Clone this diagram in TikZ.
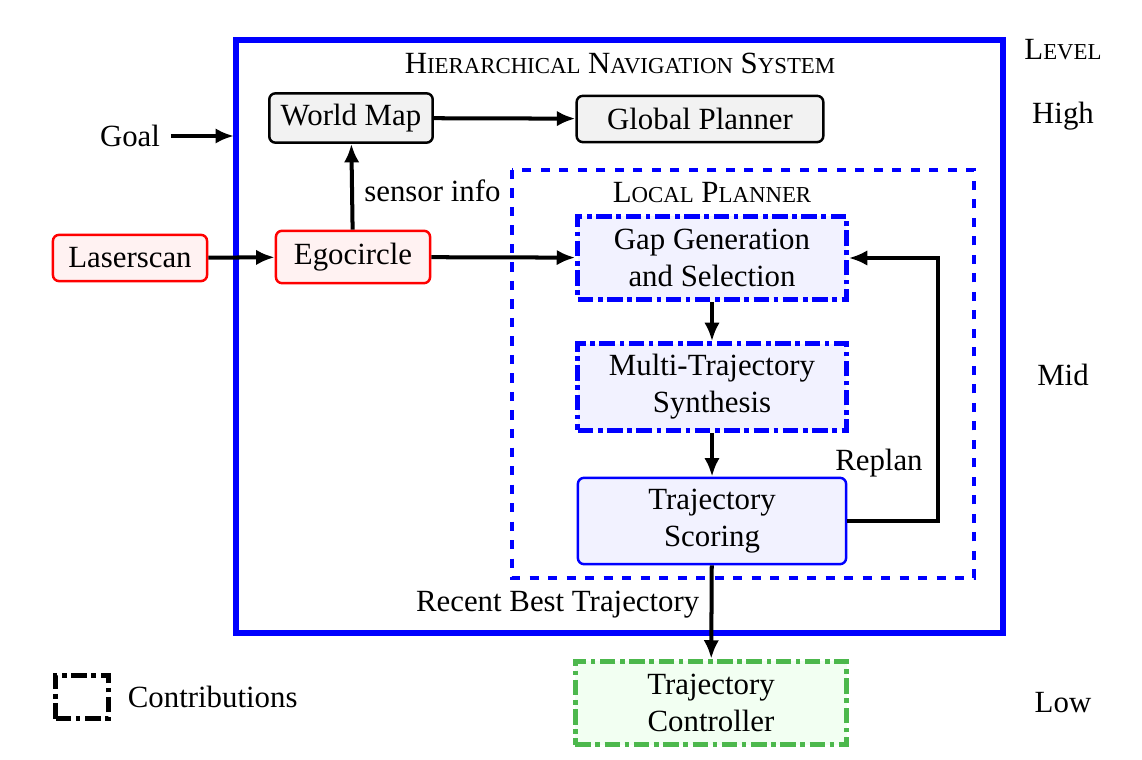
\documentclass[tikz,border=0pt]{standalone}
\usepackage{fontspec}
\setmainfont{Liberation Serif}
\usetikzlibrary{arrows.meta,positioning}
\newcommand{\fakesc}[2]{#1{\fontsize{7.4}{9}\selectfont #2}}

\tikzset{
  box/.style={draw, rounded corners=2pt, thick, align=center, inner sep=2pt},
  graybox/.style={box, black, fill=gray!10},
  redbox/.style={box, red, fill=red!5, text=black},
  contrib/.style={draw=blue, dash pattern=on 5pt off 1.5pt on 1.5pt off 1.5pt, line width=1.7pt, fill=blue!5, align=center},
  plain/.style={box, blue, fill=blue!5, text=black},
  ctrl/.style={draw=green!60!black!70, dash pattern=on 5pt off 1.5pt on 1.5pt off 1.5pt, line width=1.7pt, fill=green!5, align=center},
  arr/.style={-{Latex[length=6pt,width=5pt]}, line width=1.3pt},
}

\begin{document}
\begin{tikzpicture}[x=0.0114cm,y=-0.0114cm]
\fontsize{10}{12}\selectfont
\useasboundingbox (0,0) rectangle (1142,760);

% frames
\draw[blue, line width=1.7pt] (236,40) rectangle (1003,633);
\node (title) at (620,63) {\fakesc{H}{IERARCHICAL} \fakesc{N}{AVIGATION} \fakesc{S}{YSTEM}};
\draw[blue, dashed, line width=1.1pt] (512,170) rectangle (974,578);
\node (local) at (712,193) {\fakesc{L}{OCAL} \fakesc{P}{LANNER}};

% levels
\node (level) at (1063,50) {\fakesc{L}{EVEL}};
\node (high) at (1063,116) {High};
\node (mid) at (1063,375) {Mid};
\node (low) at (1063,703) {Low};

% nodes
\node[graybox, minimum width=53pt, minimum height=16pt] (map) at (351,118) {World Map};
\node[graybox, minimum width=80pt, minimum height=15pt] (global) at (700,119) {Global Planner};
\node (goal) at (130,136) {Goal};
\coordinate (goalend) at (234,136);
\node[redbox, minimum width=50pt, minimum height=15pt] (laser) at (130,258) {Laserscan};
\node[redbox, minimum width=50pt, minimum height=17pt] (ego) at (353,257) {Egocircle};
\node[contrib, minimum width=87pt, minimum height=27pt] (gap) at (712,258) {Gap Generation\\and Selection};
\node[contrib, minimum width=87pt, minimum height=28pt] (multi) at (712,387) {Multi-Trajectory\\Synthesis};
\node[plain, minimum width=87pt, minimum height=28pt] (score) at (712,521) {Trajectory\\Scoring};
\node[ctrl, minimum width=88pt, minimum height=27pt] (ctrl) at (711,703) {Trajectory\\Controller};

% legend
\node[draw, dash pattern=on 5pt off 1.5pt on 1.5pt off 1.5pt, line width=1.7pt, minimum width=17pt, minimum height=14pt] (legend) at (82,697) {};
\node[right=2pt of legend] (contribtext) {Contributions};

% connectors
\draw[arr] (goal) -- (goalend);
\draw[arr] (map) -- (global);
\draw[arr] (laser) -- (ego);
\draw[arr] (ego) -- node[right, pos=0.45] {sensor info} (map);
\draw[arr] (ego) -- (gap);
\draw[arr] (gap) -- (multi);
\draw[arr] (multi) -- (score);
\draw[arr] (score.east) -| node[pos=0.61, left=1pt] {Replan} (gap.east -| 938,0) -- (gap.east);
\draw[arr] (score) -- node[left, pos=0.42] {Recent Best Trajectory} (ctrl);
\end{tikzpicture}
\end{document}
